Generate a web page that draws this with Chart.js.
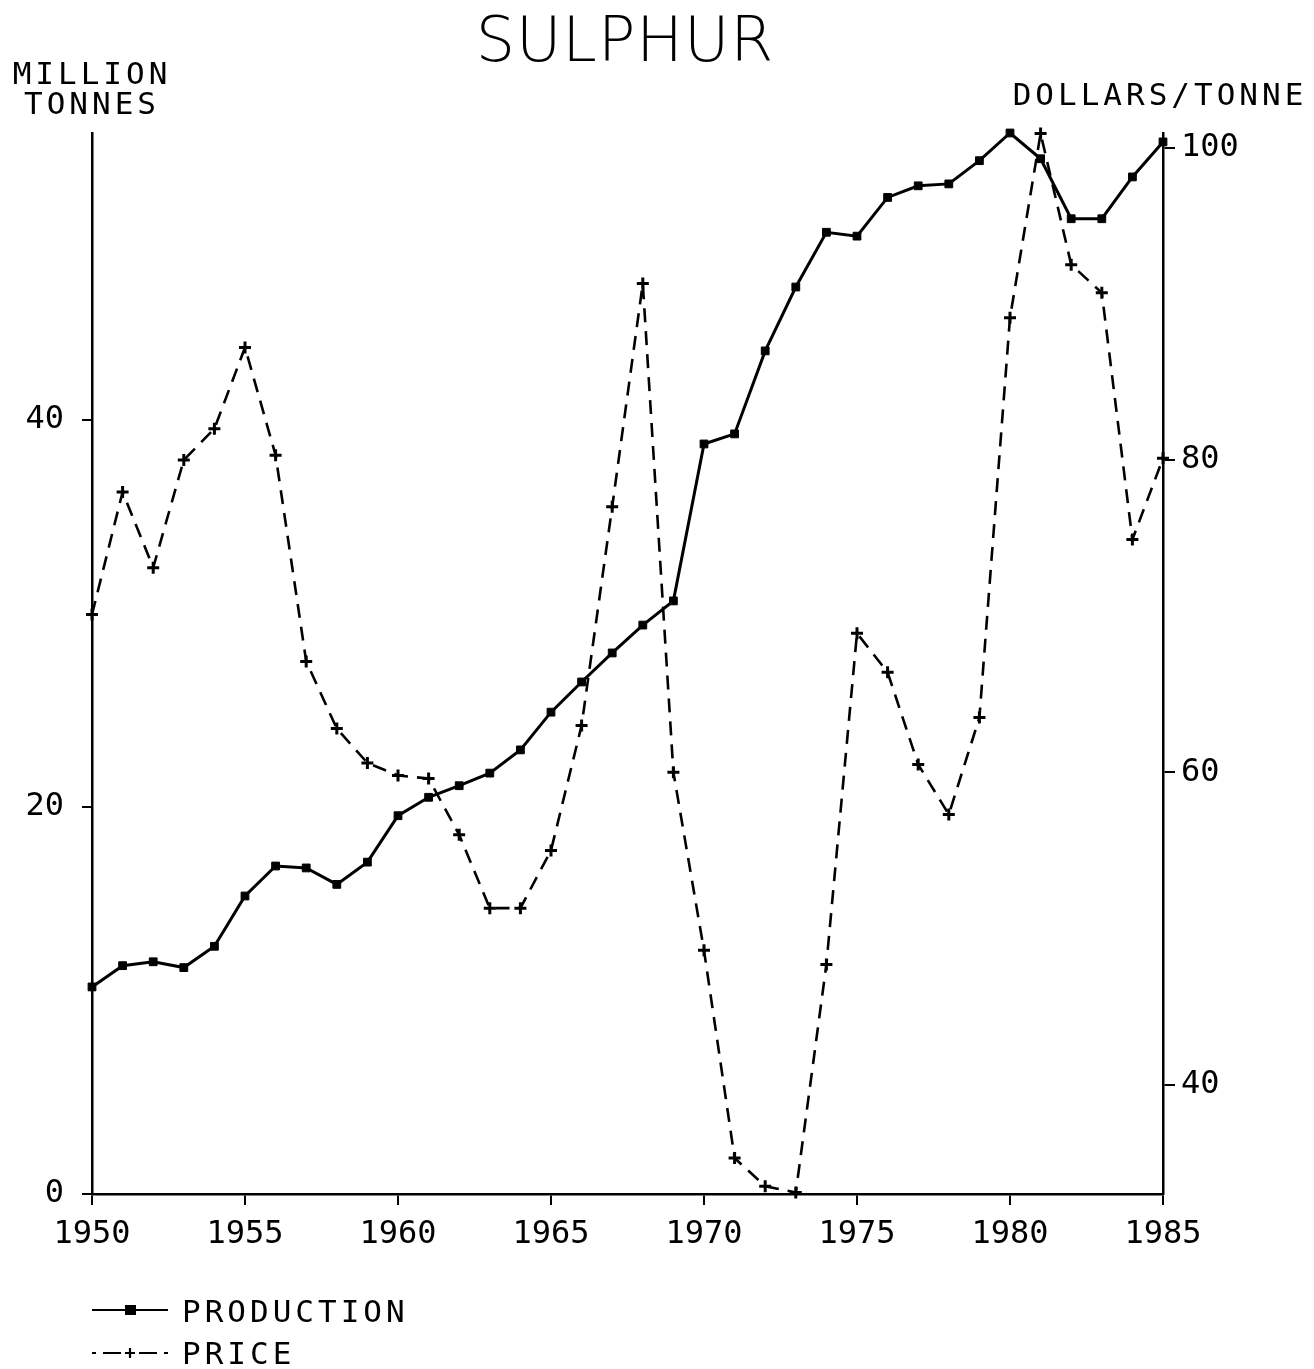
<!DOCTYPE html>
<html>
<head>
<meta charset="utf-8">
<title>SULPHUR</title>
<script src="https://cdn.jsdelivr.net/npm/chart.js@4/dist/chart.umd.min.js"></script>
<style>
  html, body { margin: 0; padding: 0; background: #fff; }
  #chart { display: block; }
</style>
</head>
<body>
<canvas id="chart" width="1314" height="1369"></canvas>
<script>
// 硫磺：產量（百萬噸，左軸）與價格（美元/噸，右軸）

const years = [
  1950, 1951, 1952, 1953, 1954, 1955, 1956, 1957, 1958, 1959,
  1960, 1961, 1962, 1963, 1964, 1965, 1966, 1967, 1968, 1969,
  1970, 1971, 1972, 1973, 1974, 1975, 1976, 1977, 1978, 1979,
  1980, 1981, 1982, 1983, 1984, 1985
];

const production = [
  10.7, 11.8, 12.0, 11.7, 12.8, 15.4, 16.95, 16.85, 16.0, 17.15,
  19.55, 20.5, 21.1, 21.75, 22.95, 24.9, 26.46, 27.96, 29.4, 30.65,
  38.76, 39.28, 43.57, 46.87, 49.7, 49.5, 51.5, 52.1, 52.2, 53.4,
  54.83, 53.5, 50.4, 50.4, 52.56, 54.37
];

const price = [
  70.1, 77.95, 73.1, 80.0, 82.0, 87.2, 80.3, 67.1, 62.8, 60.6,
  59.8, 59.6, 56.0, 51.3, 51.3, 55.0, 63.0, 77.0, 91.3, 60.0,
  48.6, 35.3, 33.5, 33.1, 47.7, 68.9, 66.4, 60.5, 57.3, 63.5,
  89.1, 100.9, 92.5, 90.7, 74.9, 80.1
];

const leftTicks = [0, 20, 40];
const rightTicks = [40, 60, 80, 100];

const FONT_MONO = '"DejaVu Sans Mono", "Liberation Mono", monospace';

const toXY = (vals) => vals.map((v, i) => ({ x: years[i], y: v }));

// 標題、軸單位與圖例（畫在 canvas 上）
const decorations = {
  id: 'decorations',
  afterDraw(chart) {
    const ctx = chart.ctx;
    const area = chart.chartArea;
    ctx.save();
    ctx.fillStyle = '#000';
    ctx.strokeStyle = '#000';

    // 標題
    ctx.font = '200 62px "DejaVu Sans", sans-serif';
    ctx.textAlign = 'center';
    ctx.textBaseline = 'alphabetic';
    ctx.letterSpacing = '1px';
    ctx.fillText('SULPHUR', 625, 61);

    // 軸單位
    ctx.font = '31px ' + FONT_MONO;
    ctx.letterSpacing = '4px';
    ctx.fillText('MILLION', area.left, 84);
    ctx.fillText('TONNES', area.left, 114);
    ctx.fillText('DOLLARS/TONNE', 1160, 105);

    // 圖例
    ctx.textAlign = 'left';
    ctx.fillText('PRODUCTION', 182, 1322);
    ctx.fillText('PRICE', 182, 1364);
    ctx.letterSpacing = '0px';

    ctx.lineWidth = 2;
    ctx.beginPath();
    ctx.moveTo(92, 1310);
    ctx.lineTo(168, 1310);
    ctx.stroke();
    ctx.fillRect(125, 1305, 11, 10);

    const py = 1353;
    ctx.lineWidth = 2.2;
    ctx.beginPath();
    ctx.moveTo(92, py); ctx.lineTo(96, py);
    ctx.moveTo(103, py); ctx.lineTo(121, py);
    ctx.moveTo(139, py); ctx.lineTo(157, py);
    ctx.moveTo(164, py); ctx.lineTo(168, py);
    ctx.moveTo(125, py); ctx.lineTo(135, py);
    ctx.moveTo(130, py - 5); ctx.lineTo(130, py + 5);
    ctx.stroke();

    ctx.restore();
  }
};

const ctx = document.getElementById('chart').getContext('2d');
new Chart(ctx, {
  type: 'line',
  data: {
    datasets: [
      {
        label: 'PRODUCTION',
        data: toXY(production),
        yAxisID: 'y',
        borderColor: '#000',
        borderWidth: 3,
        backgroundColor: '#000',
        pointStyle: 'rect',
        pointRadius: 5.5,
        pointBorderWidth: 1,
        pointBackgroundColor: '#000',
        tension: 0,
        clip: false,
      },
      {
        label: 'PRICE',
        data: toXY(price),
        yAxisID: 'y1',
        borderColor: '#000',
        borderWidth: 2.6,
        borderDash: [14, 9],
        pointStyle: 'cross',
        pointRadius: 6,
        pointBorderWidth: 3,
        pointBorderColor: '#000',
        tension: 0,
        clip: false,
      },
    ],
  },
  options: {
    responsive: false,
    animation: false,
    devicePixelRatio: 1,
    layout: { padding: { top: 133, left: 0, right: 0, bottom: 0 } },
    plugins: {
      legend: { display: false },
      title: { display: false },
      tooltip: { enabled: false },
    },
    scales: {
      x: {
        type: 'linear',
        min: 1950,
        max: 1985,
        afterFit(scale) { scale.height = 175; },
        ticks: {
          stepSize: 5,
          color: '#000',
          padding: 10,
          font: { family: FONT_MONO, size: 32 },
          callback: (v) => String(v),
        },
        grid: { drawOnChartArea: false, drawTicks: true, tickLength: 11, color: '#000', lineWidth: 2 },
        border: { display: true, color: '#000', width: 2.5 },
      },
      y: {
        position: 'left',
        min: 0,
        max: 54.83,
        afterFit(scale) { scale.width = 92; },
        afterBuildTicks(scale) { scale.ticks = leftTicks.map((v) => ({ value: v })); },
        ticks: {
          color: '#000',
          padding: 18,
          font: { family: FONT_MONO, size: 32 },
        },
        grid: { drawOnChartArea: false, drawTicks: true, tickLength: 10, color: '#000', lineWidth: 2 },
        border: { display: true, color: '#000', width: 2.5 },
      },
      y1: {
        position: 'right',
        min: 33.0,
        max: 100.93,
        afterFit(scale) { scale.width = 151; },
        afterBuildTicks(scale) { scale.ticks = rightTicks.map((v) => ({ value: v })); },
        ticks: {
          color: '#000',
          padding: 6,
          font: { family: FONT_MONO, size: 32 },
        },
        grid: { drawOnChartArea: false, drawTicks: true, tickLength: 12, color: '#000', lineWidth: 2 },
        border: { display: true, color: '#000', width: 2.5 },
      },
    },
  },
  plugins: [decorations],
});
</script>
</body>
</html>
